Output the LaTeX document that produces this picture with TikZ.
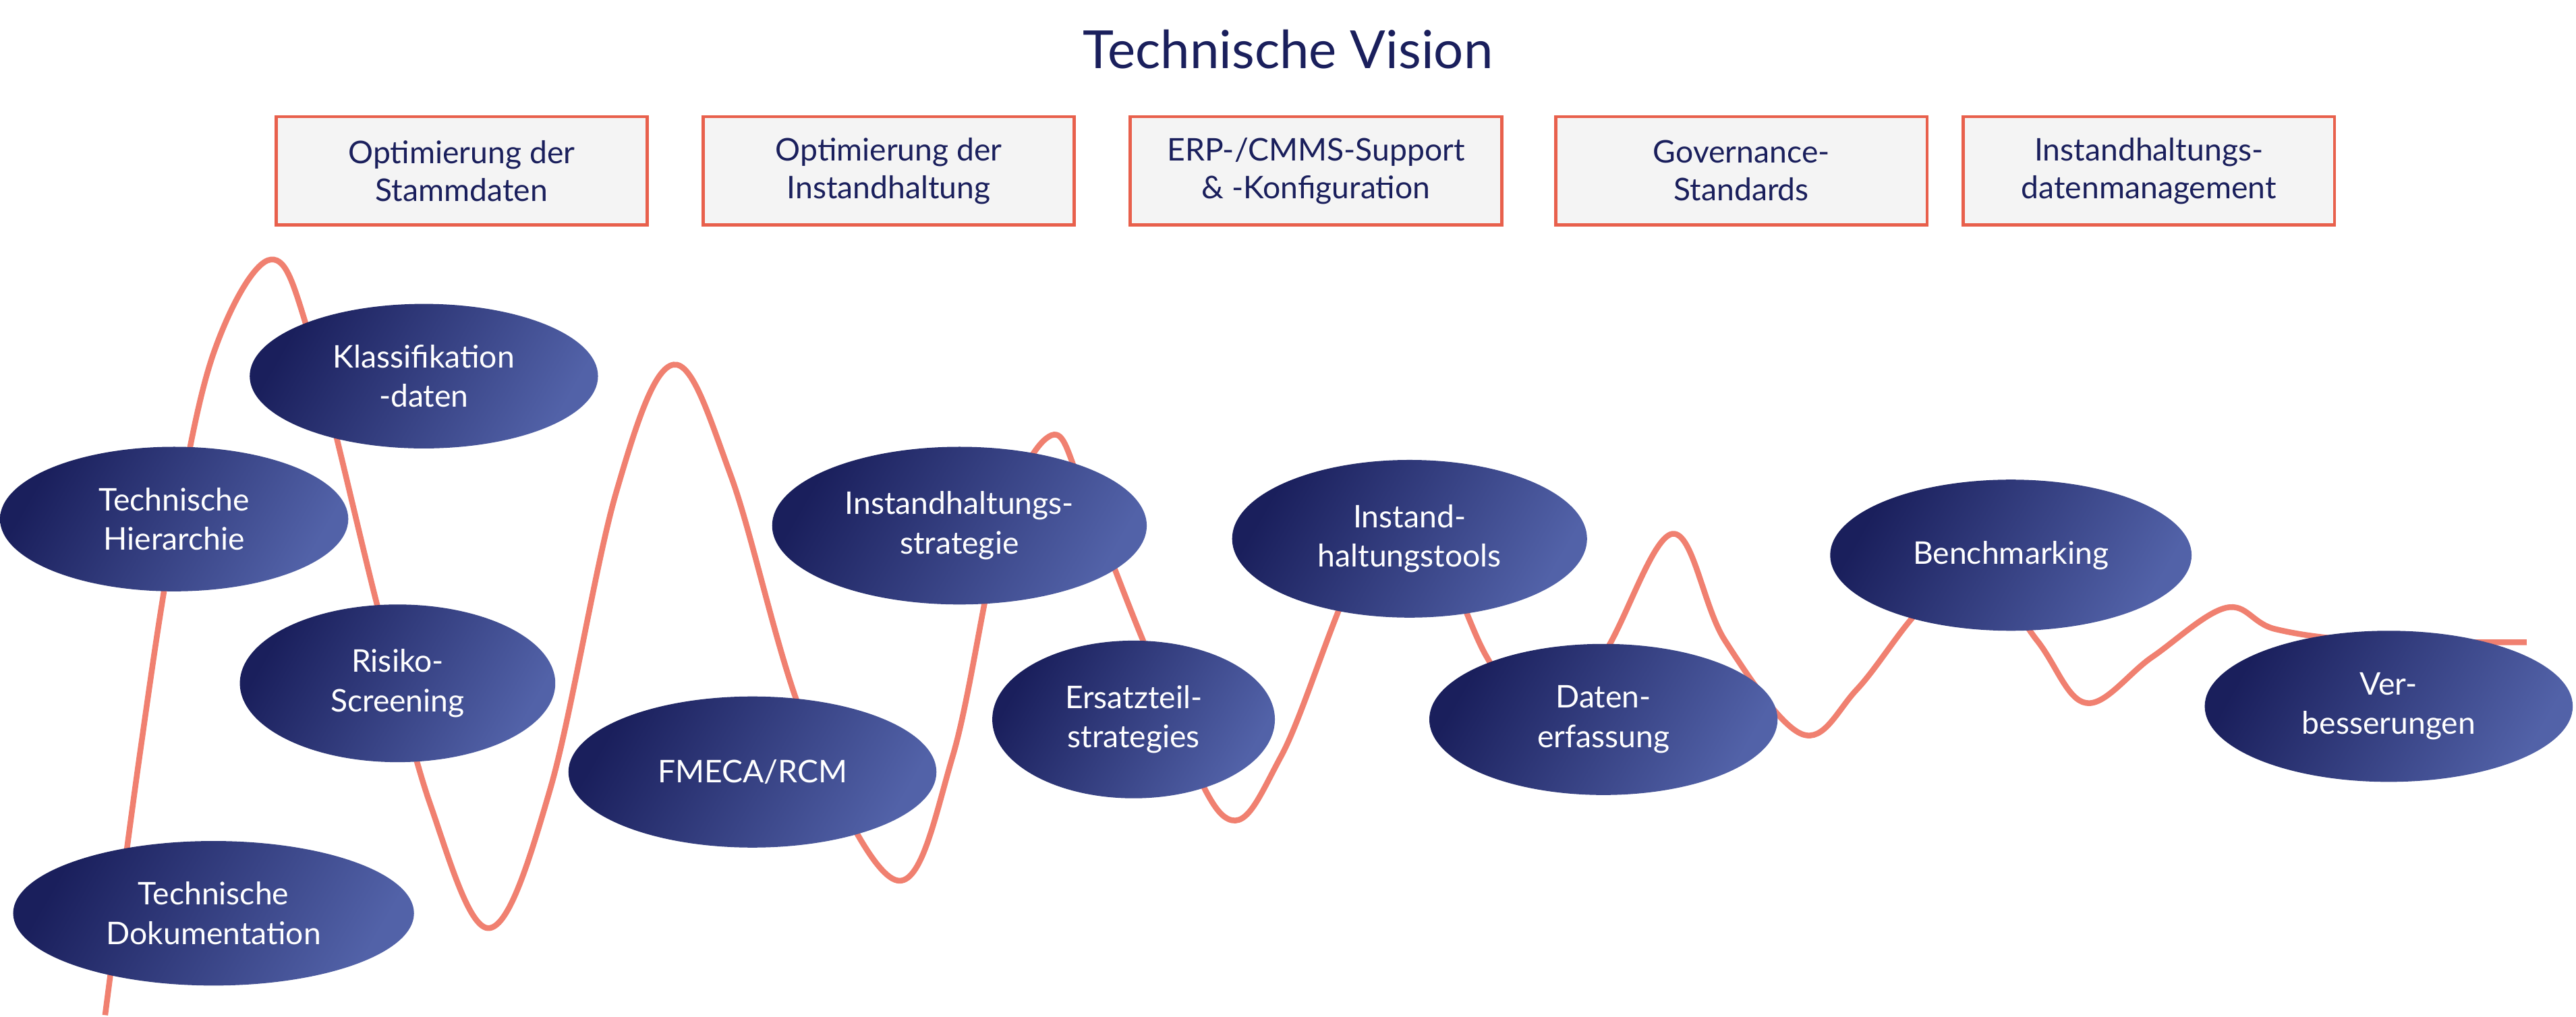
\documentclass[tikz,border=0pt]{standalone}
\usepackage{fontspec}
\setmainfont{Lato}
\usetikzlibrary{shapes.geometric}
\definecolor{navy}{HTML}{1A1F5C}
\definecolor{navyl}{HTML}{5262A8}
\definecolor{salmon}{HTML}{F08070}
\definecolor{boxb}{HTML}{E8604C}
\definecolor{boxf}{HTML}{F4F4F4}
\begin{document}
\begin{tikzpicture}[x=1pt,y=-1pt,
 bx/.style={draw=boxb,line width=2pt,fill=boxf,minimum width=226pt,minimum height=66pt,align=center,text=navy,font=\fontsize{19}{23}\selectfont},
 el/.style={ellipse,left color=navy,right color=navyl,shading angle=60,text=white,align=center,font=\fontsize{19}{24}\selectfont,inner sep=0pt}]
\useasboundingbox (0,0) rectangle (1568,619);
\node[text=navy,font=\fontsize{32}{36}\selectfont] (t) at (784,30) {Technische Vision};
\node[bx] (b1) at (281,104) {Optimierung der\\Stammdaten};
\node[bx] (b2) at (541,104) {Optimierung der\\Instandhaltung};
\node[bx] (b3) at (801,104) {ERP-/CMMS-Support\\\& -Konfiguration};
\node[bx] (b4) at (1060,104) {Governance-\\Standards};
\node[bx] (b5) at (1308,104) {Instandhaltungs-\\datenmanagement};
\draw[salmon,line width=3.5pt] plot[smooth,tension=0.6] coordinates {
(64,618) (85,460) (105,330) (130,215) (165,158) (190,210) (230,370) (262,490) (298,565) (335,480) (375,300) (410,222) (445,290) (490,440) (546,536) (580,460) (610,320) (640,265) (660,300) (700,400) (745,497) (780,460) (830,340) (870,330) (905,400) (935,440) (975,400) (1018,325) (1050,390) (1097,447) (1130,420) (1165,375) (1200,340) (1240,390) (1270,428) (1310,400) (1355,370) (1385,383) (1440,390) (1538,391)};
\node[el,minimum width=212pt,minimum height=88pt] (n1) at (258,229) {Klassifikation\\-daten};
\node[el,minimum width=212pt,minimum height=88pt] (n2) at (106,316) {Technische\\Hierarchie};
\node[el,minimum width=192pt,minimum height=96pt] (n3) at (242,416) {Risiko-\\Screening};
\node[el,minimum width=244pt,minimum height=88pt] (n4) at (130,556) {Technische\\Dokumentation};
\node[el,minimum width=224pt,minimum height=92pt] (n5) at (458,470) {FMECA/RCM};
\node[el,minimum width=228pt,minimum height=96pt] (n6) at (584,320) {Instandhaltungs-\\strategie};
\node[el,minimum width=172pt,minimum height=96pt] (n7) at (690,438) {Ersatzteil-\\strategies};
\node[el,minimum width=216pt,minimum height=96pt] (n8) at (858,328) {Instand-\\haltungstools};
\node[el,minimum width=212pt,minimum height=92pt] (n9) at (976,438) {Daten-\\erfassung};
\node[el,minimum width=220pt,minimum height=92pt] (n10) at (1224,338) {Benchmarking};
\node[el,minimum width=224pt,minimum height=92pt] (n11) at (1454,430) {Ver-\\besserungen};
\end{tikzpicture}
\end{document}
